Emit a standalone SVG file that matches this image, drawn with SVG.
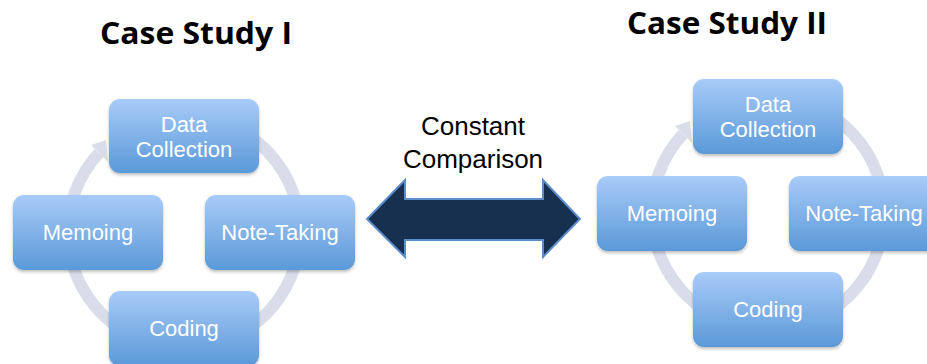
<svg xmlns="http://www.w3.org/2000/svg" width="927" height="364" viewBox="0 0 927 364">
<defs>
<linearGradient id="boxg" x1="0" y1="0" x2="0" y2="1">
<stop offset="0" stop-color="#a8cbf8"/>
<stop offset="1" stop-color="#5a99d8"/>
</linearGradient>
<filter id="sh" x="-10%" y="-10%" width="120%" height="130%">
<feDropShadow dx="0" dy="2" stdDeviation="1.5" flood-color="#000" flood-opacity="0.25"/>
</filter>
</defs>
<style>
.title{font-family:"Open Sans","Liberation Sans",sans-serif;font-weight:bold;font-size:31px;fill:#000;text-anchor:middle}
.lbl{font-family:"Liberation Sans",Arial,sans-serif;font-size:22px;fill:#fff;text-anchor:middle}
.cap{font-family:"Liberation Sans",Arial,sans-serif;font-size:26px;fill:#000;text-anchor:middle}
.box{fill:url(#boxg);filter:url(#sh)}
.ring{fill:none;stroke:#d8dde9;stroke-width:12}
.head{fill:#d8dde9}
</style>
<rect width="927" height="364" fill="#fff"/>
<text class="title" x="196" y="44" textLength="192" lengthAdjust="spacingAndGlyphs">Case Study I</text>
<text class="title" x="727" y="34" textLength="200" lengthAdjust="spacingAndGlyphs">Case Study II</text>
<g id="connectors">
<path class="ring" d="M242,131.5 A116,116 0 1 1 99,153"/>
<polygon class="head" points="91,145 108,162 106,140"/>
<path class="ring" d="M826,112.5 A116,116 0 1 1 683,134"/>
<polygon class="head" points="675,126 692,143 690,121"/>
<path d="M367,219 L405,180 L405,199 L543,199 L543,180 L580,219 L543,257 L543,240 L405,240 L405,257 Z" fill="#17304f" stroke="#5b8ec8" stroke-width="2" stroke-linejoin="miter"/>
</g>
<text class="cap"><tspan x="473" y="135">Constant</tspan><tspan x="473" y="168">Comparison</tspan></text>
<g id="l-data"><rect class="box" x="109" y="99" width="150" height="74" rx="11"/><text class="lbl"><tspan x="184" y="132">Data</tspan><tspan x="184" y="157">Collection</tspan></text></g>
<g id="l-memo"><rect class="box" x="13" y="195" width="150" height="75" rx="11"/><text class="lbl" x="88" y="240">Memoing</text></g>
<g id="l-note"><rect class="box" x="205" y="195" width="150" height="75" rx="11"/><text class="lbl" x="280" y="240">Note-Taking</text></g>
<g id="l-code"><rect class="box" x="109" y="291" width="150" height="75" rx="11"/><text class="lbl" x="184" y="336">Coding</text></g>
<g id="r-data"><rect class="box" x="693" y="79" width="150" height="75" rx="11"/><text class="lbl"><tspan x="768" y="112">Data</tspan><tspan x="768" y="137">Collection</tspan></text></g>
<g id="r-memo"><rect class="box" x="597" y="176" width="150" height="75" rx="11"/><text class="lbl" x="672" y="221">Memoing</text></g>
<g id="r-note"><rect class="box" x="789" y="176" width="150" height="75" rx="11"/><text class="lbl" x="864" y="221">Note-Taking</text></g>
<g id="r-code"><rect class="box" x="693" y="272" width="150" height="75" rx="11"/><text class="lbl" x="768" y="317">Coding</text></g>
</svg>
